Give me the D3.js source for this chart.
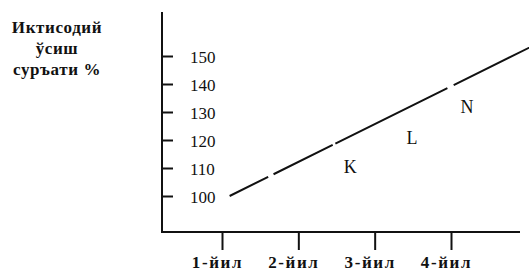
<!DOCTYPE html>
<html>
<head>
<meta charset="utf-8">
<script src="https://cdn.jsdelivr.net/npm/d3@7"></script>
<style>
  body { margin: 0; background: #fff; }
  text { font-family: "Liberation Serif", "DejaVu Serif", serif; fill: #111; }
</style>
</head>
<body>
<script>
var w = 529;
var h = 273;

// data
var years = [1, 2, 3, 4];
var yearLabels = ['1-йил', '2-йил', '3-йил', '4-йил'];
var rateTicks = [100, 110, 120, 130, 140, 150];
var lineYears = [1.1, 5.1];
var lineRates = [100, 154];
var pointNames = ['K', 'L', 'N'];
var pointYears = [2.68, 3.49, 4.21];
var pointRates = [110.7, 121, 132];
var titleLines = ['Иктисодий', 'ўсиш', 'суръати %'];

var x = d3.scaleLinear().domain([1, 4]).range([222, 451]);
var y = d3.scaleLinear().domain([100, 150]).range([196, 56]);

var axisX = 162, axisY = 232;

var svg = d3.select('body')
  .append('svg')
  .attr('width', w)
  .attr('height', h);

// axis lines
svg.append('line')
  .attr('x1', axisX).attr('x2', axisX)
  .attr('y1', 12).attr('y2', axisY)
  .attr('stroke', '#111').attr('stroke-width', 2);
svg.append('line')
  .attr('x1', axisX - 1).attr('x2', 520)
  .attr('y1', axisY).attr('y2', axisY)
  .attr('stroke', '#111').attr('stroke-width', 2);

// y ticks point inward
var yAxis = svg.append('g')
  .attr('transform', 'translate(' + axisX + ',0)')
  .call(d3.axisRight(y).tickValues(rateTicks).tickSize(11).tickPadding(17));
yAxis.select('.domain').remove();
yAxis.selectAll('line').attr('stroke', '#111').attr('stroke-width', 2);
yAxis.selectAll('text')
  .attr('font-family', '"DejaVu Serif", serif')
  .attr('font-size', 17)
  .attr('dy', '0.4em')
  .attr('fill', '#111');

// x ticks below the axis
var xAxis = svg.append('g')
  .attr('transform', 'translate(0,' + axisY + ')')
  .call(d3.axisBottom(x).tickValues(years).tickSize(18).tickPadding(6)
    .tickFormat(function (d, i) { return yearLabels[i]; }));
xAxis.select('.domain').remove();
xAxis.selectAll('line').attr('stroke', '#111').attr('stroke-width', 2);
xAxis.selectAll('text')
  .attr('font-size', 17)
  .attr('font-weight', 'bold')
  .attr('letter-spacing', 1.6)
  .attr('dx', -5)
  .attr('font-family', '"Liberation Serif", serif')
  .attr('fill', '#111');

// growth line
var line = d3.line()
  .x(function (d, i) { return x(lineYears[i]); })
  .y(function (d) { return y(d); });

svg.append('path')
  .datum(lineRates)
  .attr('d', line)
  .attr('fill', 'none')
  .attr('stroke', '#111')
  .attr('stroke-width', 2)
  .attr('stroke-dasharray', '43,6,66,3,125,7,500');

// point letters
svg.selectAll('.pt')
  .data(pointNames)
  .enter()
  .append('text')
  .attr('class', 'pt')
  .attr('x', function (d, i) { return x(pointYears[i]); })
  .attr('y', function (d, i) { return y(pointRates[i]); })
  .attr('dy', '0.36em')
  .attr('text-anchor', 'middle')
  .attr('font-size', 18)
  .text(function (d) { return d; });

// y title
svg.selectAll('.ttl')
  .data(titleLines)
  .enter()
  .append('text')
  .attr('class', 'ttl')
  .attr('x', 57)
  .attr('y', function (d, i) { return 33 + i * 21; })
  .attr('text-anchor', 'middle')
  .attr('font-size', 17)
  .attr('font-weight', 'bold')
  .attr('letter-spacing', 0.6)
  .text(function (d) { return d; });
</script>
</body>
</html>
